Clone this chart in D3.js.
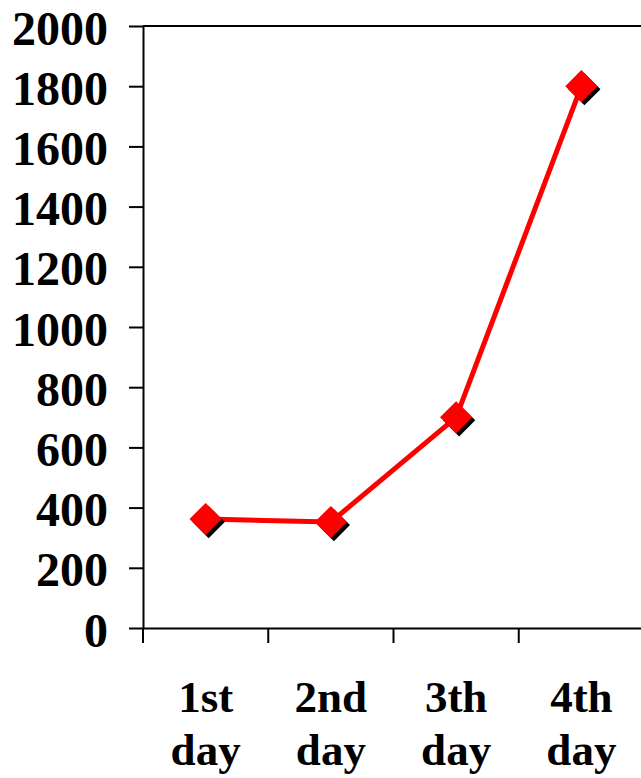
<!DOCTYPE html>
<html>
<head>
<meta charset="utf-8">
<script src="https://cdn.jsdelivr.net/npm/d3@7"></script>
<style>
  html, body { margin: 0; padding: 0; background: #fff; }
  svg { display: block; }
  text { font-family: "Liberation Serif", "Times New Roman", serif; font-weight: bold; fill: #000; }
</style>
</head>
<body>
<svg id="chart" width="641" height="778"></svg>
<script>
const categories = [["1st", "day"], ["2nd", "day"], ["3th", "day"], ["4th", "day"]];
const values = [362, 352, 700, 1800];
const yTicks = [0, 200, 400, 600, 800, 1000, 1200, 1400, 1600, 1800, 2000];

const svg = d3.select("#chart");
const margin = { left: 143, top: 26 };
const plotW = 501, plotH = 602;
const g = svg.append("g").attr("transform", `translate(${margin.left},${margin.top})`);

const x = d3.scaleBand().domain(categories.map((c, i) => i)).range([0, plotW]).padding(0);
const y = d3.scaleLinear().domain([0, 2000]).range([plotH, 0]);

// top border
g.append("line").attr("x1", 0).attr("x2", plotW).attr("y1", y(2000)).attr("y2", y(2000))
  .attr("stroke", "#000").attr("stroke-width", 2);

// y axis
const yAxis = g.append("g").call(d3.axisLeft(y).tickValues(yTicks).tickSize(14).tickSizeOuter(0).tickFormat(d3.format("d")));
yAxis.select(".domain").attr("stroke", "#000").attr("stroke-width", 2);
yAxis.selectAll(".tick line").attr("stroke", "#000").attr("stroke-width", 2);
yAxis.selectAll(".tick text").attr("x", -35).attr("dy", "18px").attr("font-size", 48)
  .attr("font-family", "Liberation Serif, Times New Roman, serif").attr("font-weight", "bold");

// x axis
const xAxis = g.append("g").attr("transform", `translate(0,${plotH})`)
  .call(d3.axisBottom(x).tickSize(0).tickSizeOuter(0).tickFormat(""));
xAxis.select(".domain").attr("stroke", "#000").attr("stroke-width", 2);
xAxis.selectAll(".tick").remove();
// band boundary ticks
const bounds = d3.range(categories.length + 1).map(i => i === categories.length ? plotW : x(i));
xAxis.selectAll("line.bt").data(bounds).join("line").attr("class", "bt")
  .attr("x1", d => d).attr("x2", d => d).attr("y1", 0).attr("y2", 15)
  .attr("stroke", "#000").attr("stroke-width", 2);
// labels
const lab = xAxis.selectAll("text.cl").data(categories).join("text").attr("class", "cl")
  .attr("text-anchor", "middle").attr("font-size", 45)
  .attr("transform", (d, i) => `translate(${x(i) + x.bandwidth() / 2},0)`);
lab.append("tspan").attr("x", 0).attr("y", 84).text(d => d[0]);
lab.append("tspan").attr("x", 0).attr("y", 137).text(d => d[1]);

// line
const pts = values.map((v, i) => [x(i) + x.bandwidth() / 2, y(v)]);
g.append("path").datum(pts).attr("d", d3.line()).attr("fill", "none")
  .attr("stroke", "#ff0000").attr("stroke-width", 5).attr("stroke-linejoin", "round");

// markers
const sym = d3.symbol().type(d3.symbolSquare).size(520);
g.selectAll("path.sh").data(pts).join("path").attr("class", "sh")
  .attr("d", sym).attr("fill", "#000")
  .attr("transform", d => `translate(${d[0] + 3},${d[1] + 3}) rotate(45)`);
g.selectAll("path.mk").data(pts).join("path").attr("class", "mk")
  .attr("d", sym).attr("fill", "#ff0000")
  .attr("transform", d => `translate(${d[0]},${d[1]}) rotate(45)`);
</script>
</body>
</html>
